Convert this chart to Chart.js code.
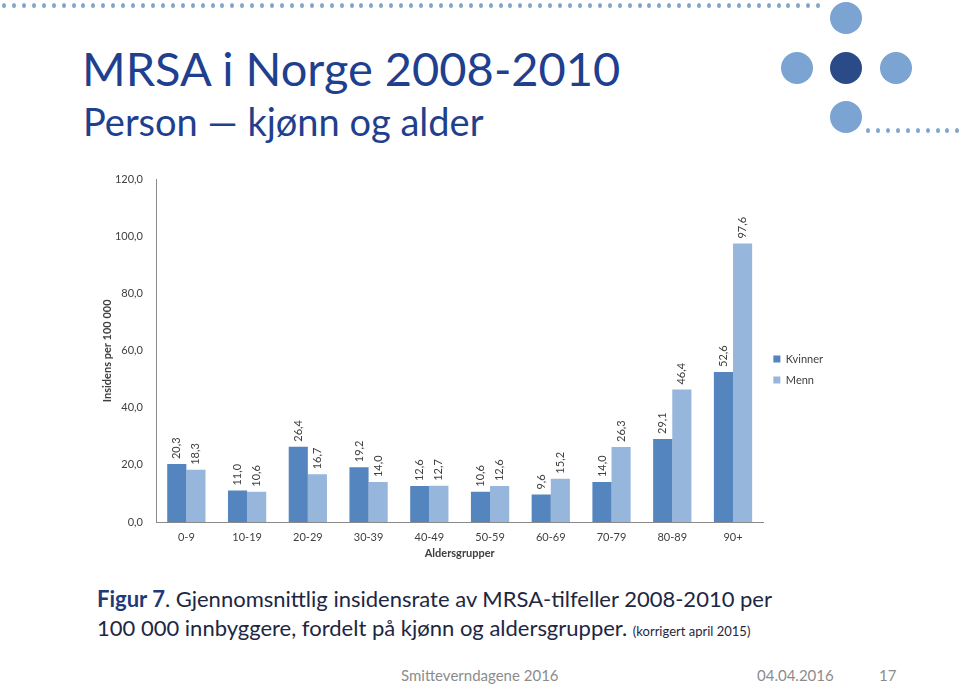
<!DOCTYPE html>
<html lang="no">
<head>
    <meta charset="UTF-8">
    <title>MRSA i Norge 2008-2010</title>
    <script src="https://cdn.jsdelivr.net/npm/chart.js"></script>
    <style>
        html, body {
            margin: 0;
            padding: 0;
            background: #fff;
        }
        body {
            width: 959px;
            height: 686px;
            position: relative;
            overflow: hidden;
            font-family: Lato, "Open Sans", sans-serif;
        }
        .dot {
            position: absolute;
            width: 4px;
            height: 5px;
            border-radius: 50%;
            background: #7fa4cf;
        }
        .circle {
            position: absolute;
            width: 32px;
            height: 32px;
            border-radius: 50%;
            background: #7ba4d2;
        }
        .circle.dark { background: #2b4b88; }
        h1 {
            position: absolute;
            left: 82px;
            top: 43px;
            margin: 0;
            font-weight: normal;
            font-size: 47px;
            line-height: 1.1;
            color: #1f3f8f;
            white-space: nowrap;
        }
        h2 {
            position: absolute;
            left: 83px;
            top: 99px;
            margin: 0;
            font-weight: normal;
            font-size: 38px;
            line-height: 1.2;
            color: #1f3f8f;
            white-space: nowrap;
        }
        #chartBox {
            position: absolute;
            left: 97px;
            top: 160px;
            width: 736px;
            height: 404px;
        }
        .caption {
            position: absolute;
            left: 97px;
            top: 584px;
            font-size: 22px;
            line-height: 29px;
            color: #1d2742;
            white-space: nowrap;
        }
        .caption b { color: #1f3a78; }
        .caption small { font-size: 13px; }
        .footer {
            position: absolute;
            top: 666px;
            font-size: 15px;
            color: #8c8c8c;
            white-space: nowrap;
        }
    </style>
</head>
<body>
    <div id="deco"></div>
    <div class="circle" style="left:830px; top:2px;"></div>
    <div class="circle" style="left:781px; top:52px;"></div>
    <div class="circle dark" style="left:830px; top:52px;"></div>
    <div class="circle" style="left:880px; top:52px;"></div>
    <div class="circle" style="left:830px; top:101px;"></div>

    <h1>MRSA i Norge 2008-2010</h1>
    <h2>Person — kjønn og alder</h2>

    <div id="chartBox"><canvas id="mrsaChart"></canvas></div>

    <div class="caption">
        <b>Figur 7</b>. Gjennomsnittlig insidensrate av MRSA-tilfeller 2008-2010 per<br>
        100 000 innbyggere, fordelt på kjønn og aldersgrupper. <small>(korrigert april 2015)</small>
    </div>

    <div class="footer" style="left:401px;">Smitteverndagene 2016</div>
    <div class="footer" style="left:757px;">04.04.2016</div>
    <div class="footer" style="left:879px;">17</div>

<script>
    // Chart data
    const ageGroups = ['0-9', '10-19', '20-29', '30-39', '40-49', '50-59', '60-69', '70-79', '80-89', '90+'];
    const women = [20.3, 11.0, 26.4, 19.2, 12.6, 10.6, 9.6, 14.0, 29.1, 52.6];
    const men = [18.3, 10.6, 16.7, 14.0, 12.7, 12.6, 15.2, 26.3, 46.4, 97.6];
    const yTicks = [0, 20, 40, 60, 80, 100, 120];

    // Dotted lines (slide decoration)
    const deco = document.getElementById('deco');
    for (let x = 2; x <= 826; x += 9.93) {
        const d = document.createElement('div');
        d.className = 'dot';
        d.style.left = x + 'px';
        d.style.top = '3px';
        deco.appendChild(d);
    }
    for (let x = 866; x <= 959; x += 9.93) {
        const d = document.createElement('div');
        d.className = 'dot';
        d.style.left = x + 'px';
        d.style.top = '128px';
        deco.appendChild(d);
    }

    const fmt = v => v.toFixed(1).replace('.', ',');
    const textColor = '#404040';
    const axisColor = '#8a8a8a';

    // Rotated value labels above each bar
    const barLabels = {
        id: 'barLabels',
        afterDatasetsDraw(chart) {
            const ctx = chart.ctx;
            ctx.save();
            ctx.font = '11px Lato, "Open Sans", sans-serif';
            ctx.fillStyle = textColor;
            ctx.textAlign = 'left';
            ctx.textBaseline = 'middle';
            chart.data.datasets.forEach((ds, i) => {
                chart.getDatasetMeta(i).data.forEach((bar, j) => {
                    ctx.save();
                    ctx.translate(bar.x, bar.y - 5);
                    ctx.rotate(-Math.PI / 2);
                    ctx.fillText(fmt(ds.data[j]), 0, 0);
                    ctx.restore();
                });
            });
            ctx.restore();
        }
    };

    Chart.defaults.font.family = 'Lato, "Open Sans", sans-serif';
    Chart.defaults.font.size = 11;
    Chart.defaults.color = textColor;

    new Chart(document.getElementById('mrsaChart'), {
        type: 'bar',
        data: {
            labels: ageGroups,
            datasets: [
                { label: 'Kvinner', data: women, backgroundColor: '#5585be' },
                { label: 'Menn', data: men, backgroundColor: '#97b6db' }
            ]
        },
        options: {
            responsive: true,
            maintainAspectRatio: false,
            animation: false,
            layout: { padding: { top: 15, right: 0, bottom: 0, left: 0 } },
            datasets: {
                bar: { categoryPercentage: 0.63, barPercentage: 1.0 }
            },
            plugins: {
                legend: {
                    position: 'right',
                    labels: { boxWidth: 7, boxHeight: 7, padding: 10, color: textColor }
                },
                tooltip: { enabled: false }
            },
            scales: {
                x: {
                    grid: { display: false, drawTicks: false },
                    border: { color: axisColor },
                    ticks: { padding: 9, maxRotation: 0 },
                    title: { display: true, text: 'Aldersgrupper', font: { weight: 'bold' }, padding: 4 },
                    afterFit: s => { s.height = 42; }
                },
                y: {
                    min: 0,
                    max: 120,
                    grid: { display: false, drawTicks: false },
                    border: { color: axisColor },
                    afterBuildTicks: s => { s.ticks = yTicks.map(v => ({ value: v })); },
                    ticks: { padding: 13, callback: v => fmt(v) },
                    title: { display: true, text: 'Insidens per 100 000', font: { weight: 'bold' }, padding: 4 },
                    afterFit: s => { s.width = 59; }
                }
            }
        },
        plugins: [barLabels]
    });
</script>
</body>
</html>
